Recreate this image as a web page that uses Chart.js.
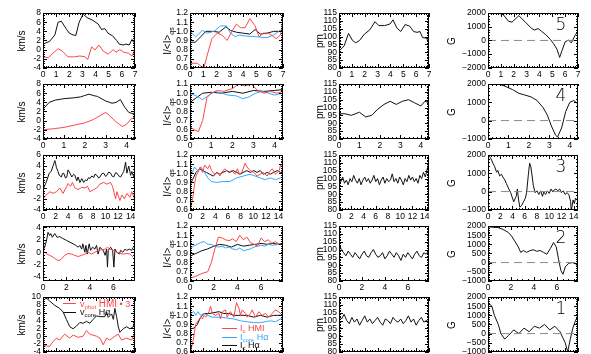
<!DOCTYPE html>
<html><head><meta charset="utf-8">
<script src="https://cdn.jsdelivr.net/npm/chart.js@4/dist/chart.umd.min.js"></script>
<style>
body{margin:0;width:591px;height:354px;overflow:hidden;background:#fff;position:relative;font-family:"Liberation Sans",Arial,sans-serif;color:#000}
canvas{position:absolute}
.yt{position:absolute;transform:translate(-50%,-50%) rotate(-90deg);font-size:10px;white-space:nowrap;line-height:1}
.num{position:absolute;transform:translate(-50%,-50%);font-family:"DejaVu Sans",sans-serif;font-weight:200;font-size:17px;line-height:1}
.lg{position:absolute;font-size:9px;white-space:nowrap;line-height:1}
.lg sub{font-size:6px;vertical-align:-2px}
.ln{position:absolute;height:0;border-top:1px solid}
</style></head><body>
<script>
// ---------------- DATA ----------------
// Row 1 (panel 5)
const r1VcoreX=[0,0.5,0.9,1.15,1.4,1.8,2.0,2.3,2.5,2.75,3.05,3.36,3.8,4.2,4.45,4.7,4.95,5.3,5.6,5.8,6.1,6.3,6.56,6.77,6.9,7.0];
const r1VcoreY=[1.2,1.8,3.2,6.0,6.2,4.4,3.6,3.2,3.1,6.0,7.8,7.0,6.4,5.6,4.4,4.6,3.6,3.0,2.0,1.2,1.0,1.2,1.0,2.2,1.6,2.0];
const r1VphotX=[0,0.4,0.76,1.15,1.5,1.9,2.4,2.8,3.2,3.4,3.7,3.95,4.25,4.6,4.96,5.35,5.55,5.85,6.16,6.5,6.77,7.0];
const r1VphotY=[-1.6,-1.8,-0.8,0.2,-0.4,-1.6,-1.6,-1.4,-1.6,-2.2,0.6,-0.1,1.0,-0.4,-1.0,0.0,-0.6,0.0,-0.6,-0.8,-1.4,0.0];
const r1IcoreX=[0,0.43,0.93,1.3,1.8,2.3,2.75,3.05,3.4,3.7,4.05,5.05,5.8,6.3,6.8,7.0];
const r1IcoreY=[1.0,0.94,1.01,0.98,1.0,1.06,1.06,0.98,0.94,0.96,0.95,0.94,0.93,0.96,1.01,1.03];
const r1IcHaX=[0,0.4,0.8,1.2,1.7,2.2,2.7,3.05,3.5,4.0,4.5,4.9,5.3,5.8,6.3,7.0];
const r1IcHaY=[0.88,0.88,0.94,1.0,1.0,0.99,1.05,1.01,0.99,0.98,0.97,1.02,0.97,0.98,1.0,1.0];
const r1IcHmiX=[0,0.55,0.8,1.05,1.3,1.65,2.05,2.4,2.8,3.15,3.5,3.8,4.15,4.5,4.9,5.2,5.5,5.9,6.3,6.5,6.8,7.0];
const r1IcHmiY=[0.65,0.65,0.62,0.6,0.74,0.92,0.98,0.96,0.9,1.0,1.08,1.04,1.04,1.14,1.06,0.94,0.98,0.98,0.94,0.92,0.96,1.08];
const r1PmX=[0,0.4,0.74,1.05,1.3,1.6,1.98,2.4,2.8,3.1,3.56,3.96,4.2,4.5,4.8,5.15,5.5,5.8,6.07,6.3,6.5,6.8,7.0];
const r1PmY=[90.7,94,102,97.5,96,97.5,101.6,104.3,109.5,107,107,108,110.7,105.5,103.2,107.7,106.6,103.2,102.7,103.2,99.3,99,96];
const r1GX=[0,0.83,1.2,1.6,1.87,2.4,2.9,3.4,3.6,3.9,4.15,4.5,4.85,5.1,5.36,5.5,5.57,5.75,6.0,6.27,6.48,6.8,6.9,7.0];
const r1GY=[2000,2000,1870,1400,1340,1815,1340,870,760,870,680,420,80,-240,-630,-1030,-1240,-760,-100,30,-180,420,550,420];
// Row 2 (panel 4)
const r2VcoreX=[0,0.3,0.6,1.0,1.5,1.8,2.0,2.2,2.4,2.6,3.0,3.3,3.5,3.7,3.9,4.1,4.3,4.4];
const r2VcoreY=[2.5,4.0,4.5,4.8,5.0,5.2,5.5,5.8,5.5,5.3,4.3,3.8,4.0,4.6,3.0,1.8,1.5,1.8];
const r2VphotX=[0,0.5,1.0,1.5,2.0,2.4,2.7,3.0,3.2,3.5,3.8,4.0,4.2,4.4];
const r2VphotY=[-2,-1.8,-1.5,-1,-0.5,0.2,1,1.8,1,-0.3,-1.3,-0.8,0.3,0.8];
const r2IcHmiX=[0,0.2,0.4,0.6,0.8,1.0,1.3,1.6,2.0,2.3,2.6,2.9,3.2,3.5,3.8,4.1,4.4];
const r2IcHmiY=[0.63,0.6,0.58,0.7,0.95,1.0,1.03,1.02,1.05,1.1,1.08,1.1,1.03,1.0,1.02,1.0,1.02];
const r2IcoreX=[0,0.3,0.6,0.9,1.2,1.5,1.8,2.2,2.5,2.8,3.1,3.4,3.7,4.0,4.4];
const r2IcoreY=[1.0,0.97,0.93,0.98,1.02,1.0,0.98,0.97,0.94,0.96,1.0,1.02,1.0,0.98,1.0];
const r2IcHaX=[0,0.3,0.6,1.0,1.5,2.0,2.5,3.0,3.5,4.0,4.4];
const r2IcHaY=[0.9,0.95,1.0,1.01,1.0,1.02,1.0,1.03,1.02,1.03,1.04];
const r2PmX=[0,0.3,0.6,1.0,1.3,1.6,1.9,2.2,2.5,2.8,3.1,3.4,3.7,4.0,4.2,4.4];
const r2PmY=[96,96,95,97,94,95,99,102,104,102,104,105,103,101,104,103];
const r2GX=[0,0.5,0.8,1.2,1.5,1.8,2.1,2.4,2.7,2.9,3.1,3.3,3.4,3.6,3.8,4.0,4.2,4.4];
const r2GY=[2000,2000,1900,1700,1500,1400,1300,1100,700,300,-300,-800,-900,-400,500,1000,1100,900];
// Row 3 (panel 3)
const r3VcoreX=[0,0.3,0.5,0.8,1,1.3,1.6,1.9,2.0,2.15,2.4,2.6,2.95,3.1,3.3,3.6,3.8,4.0,4.3,4.6,4.9,5.1,5.4,5.6,5.9,6.2,6.5,6.8,7,7.3,7.5,7.8,8.1,8.3,8.6,8.9,9.1,9.4,9.7,10,10.2,10.5,10.8,11,11.3,11.6,11.8,12.1,12.4,12.7,12.9,13.2,13.4,13.7,14,14.2,14.5,14.7];
const r3VcoreY=[-0.3,0.5,1,2,2.7,3,4,5,4.5,3.7,3,2.3,2,2.6,2.7,1.8,2,3.3,2.7,2,2.5,2.3,1.3,2,1,1.7,1,1.5,1.3,1.9,1.7,2.2,1.9,2.5,2.3,1.8,2,2.6,2.7,2.1,2.3,2.9,2.7,2.2,2,2.8,2.7,2.2,2,2.6,3,4.7,2.7,4,2.3,3,2,2.7];
const r3VphotX=[0,0.5,1.1,1.6,2.15,2.7,3.2,3.8,4.0,4.4,4.7,5.1,5.6,6.2,6.7,7.1,7.5,8.1,8.6,9.1,9.7,10.2,10.8,11.1,11.6,11.8,12.3,12.6,13,13.4,13.9,14.2,14.7];
const r3VphotY=[-2,-1.3,-0.7,-1,-0.7,0,-1,0.3,0.8,0.3,1,0,-0.3,0.1,0,0.3,-0.7,-0.3,0,0.7,1,0.7,1,0.3,-2,-0.7,-2.3,-1.3,-2,-1,-1.7,-0.7,-2.3];
const r3IcHmiX=[0,0.4,0.7,0.95,1.4,1.6,2.0,2.3,2.8,3.1,3.4,3.9,4.4,4.7,5.0,5.5,6.1,6.6,7.1,7.5,7.8,8.2,8.7,9.0,9.5,10.1,10.6,11.1,11.6,12.2,12.5,13,13.5,14.1,14.3,14.7];
const r3IcHmiY=[0.6,0.71,0.87,0.97,1.03,1.07,1.01,1.09,1.05,1.09,1.03,0.99,1.01,0.97,1.01,1.05,1.01,1.03,0.99,1.05,0.99,1.01,1.11,1.07,1.03,1.01,0.97,0.99,1.01,0.97,1.01,1.05,0.99,1.03,1.09,1.07];
const r3IcoreX=[0,0.4,0.7,1.2,1.7,2.3,2.8,3.4,4.2,5.2,6.3,7.4,8.4,9.5,10.3,11.1,11.9,12.7,13.5,14.3,14.7];
const r3IcoreY=[1.05,1.01,1.07,1.03,1.07,1.01,0.95,0.91,0.9,0.91,0.91,0.95,0.97,0.99,0.97,0.95,0.93,0.95,0.93,0.95,0.96];
const r3IcHaX=[0,0.4,0.95,1.5,2.0,2.6,3.1,3.7,4.2,4.7,5.2,5.8,6.3,6.8,7.4,7.9,8.4,9.0,9.5,10.1,10.6,11.1,11.6,12.2,12.7,13.2,13.8,14.3,14.7];
const r3IcHaY=[0.87,0.93,1.01,1.05,1.03,1.01,0.99,0.97,1.01,0.99,1.01,1.03,1.01,1.03,1.01,0.99,1.01,1.03,1.01,1.03,1.01,1.03,0.99,1.01,0.99,1.01,1.03,1.01,1.02];
const r3PmX=[0,0.3,0.6,0.9,1.2,1.5,1.8,2.1,2.4,2.7,3.0,3.3,3.6,3.9,4.2,4.5,4.8,5.1,5.4,5.7,6.0,6.3,6.6,6.9,7.2,7.5,7.8,8.1,8.4,8.7,9.0,9.3,9.6,9.9,10.2,10.5,10.8,11.1,11.4,11.7,12.0,12.3,12.6,12.9,13.2,13.5,13.8,14.1,14.4,14.7];
const r3PmY=[100,98,101,97,99,96,100,98,102,99,97,100,96,99,101,98,100,97,99,102,98,100,96,99,101,97,100,98,99,103,98,100,97,101,99,96,100,98,102,99,101,98,100,97,102,100,104,101,106,110];
const r3GX=[0,0.4,0.8,1.1,1.4,1.6,1.9,2.2,2.5,2.75,3.0,3.4,3.7,4.0,4.2,4.6,4.8,5.0,5.2,5.5,5.8,6.1,6.3,6.6,6.8,7.0,7.2,7.4,7.7,8.0,8.3,8.6,8.9,9.1,9.4,9.7,10,10.3,10.6,10.8,11.1,11.4,11.7,12,12.3,12.6,12.9,13.2,13.5,13.6,13.9,14.1,14.3,14.5,14.7];
const r3GY=[2000,1860,1560,1360,1060,1160,860,950,750,640,440,140,-60,-360,-560,-260,140,-460,-860,-760,-560,-360,-60,950,1560,1360,860,340,-60,40,-160,40,-260,-20,-160,40,-100,140,-20,80,140,40,140,-60,40,-160,-60,-160,-560,-1060,-460,-660,-360,-460,-360];
// Row 4 (panel 2)
const r4VcoreX=[0,0.14,0.3,0.43,0.57,0.66,0.8,1.0,1.2,1.43,1.7,2.0,2.3,2.57,2.8,3.0,3.14,3.3,3.4,3.57,3.66,3.77,3.94,4.06,4.23,4.43,4.57,4.7,4.86,5.0,5.14,5.3,5.43,5.5,5.57,5.77,5.94,6.05,6.14,6.3,6.5,6.63,6.8,7.0,7.14,7.37,7.57,7.7];
const r4VcoreY=[0.3,0.8,1.9,3.2,2.7,3.0,2.4,3.0,2.4,2.5,2.2,1.9,1.6,1.35,1.1,0.8,1.1,0.5,1.35,0,1.1,-0.3,1.35,0.3,0.8,0.5,1.1,-0.3,0.8,0.5,0.3,-0.5,0.5,-2.4,0.3,0.8,0.3,-2.4,0.5,0,-0.3,0.3,0,0.5,0.3,0.5,0.3,0.8];
const r4VphotX=[0,0.3,0.57,0.86,1.14,1.37,1.57,1.86,2.14,2.43,2.7,3.0,3.3,3.57,3.86,4.14,4.43,4.7,5.0,5.3,5.5,5.7,6.0,6.3,6.57,6.86,7.14,7.43,7.7];
const r4VphotY=[0.3,-0.3,-0.5,-0.8,-1.2,-1.35,-1.1,-0.5,-0.2,-0.3,-0.5,-0.7,-0.5,-0.3,0,-0.3,0,0.3,0.4,0.5,0.8,0.5,0.3,0,-0.2,-0.3,-0.2,-0.3,-0.8];
const r4IcHmiX=[0,0.5,1.0,1.5,1.8,2.1,2.4,2.7,3.0,3.3,3.6,3.9,4.2,4.5,4.8,5.1,5.4,5.7,6.0,6.3,6.6,6.9,7.2,7.5,7.8];
const r4IcHmiY=[0.63,0.65,0.68,0.7,0.8,0.95,1.08,1.07,1.05,1.04,1.06,1.03,1.1,1.05,1.08,1.02,1.0,0.98,1.07,1.03,1.05,1.01,1.03,1.0,1.01];
const r4IcoreX=[0,0.3,0.6,0.9,1.2,1.5,1.8,2.1,2.4,2.7,3.0,3.3,3.6,3.9,4.2,4.5,4.8,5.1,5.4,5.7,6.0,6.3,6.6,7.0,7.5,7.8];
const r4IcoreY=[0.95,0.98,1.0,1.02,1.03,1.0,1.0,0.98,0.97,0.98,0.96,0.97,0.95,0.94,0.96,0.93,0.94,0.95,0.97,0.98,0.99,0.98,1.0,0.99,1.0,1.0];
const r4IcHaX=[0,0.5,1.0,1.5,2.0,2.5,3.0,3.5,4.0,4.5,5.0,5.5,6.0,6.5,7.0,7.5,7.8];
const r4IcHaY=[0.87,0.9,0.93,0.95,0.98,1.0,0.99,0.97,1.0,0.98,0.99,1.0,1.01,1.0,1.01,1.0,1.01];
const r4PmX=[0,0.2,0.4,0.6,0.8,1.0,1.2,1.4,1.6,1.8,2.0,2.2,2.4,2.6,2.8,3.0,3.2,3.4,3.6,3.8,4.0,4.2,4.4,4.6,4.8,5.0,5.2,5.4,5.6,5.8,6.0,6.2,6.4,6.6,6.8,7.0,7.2,7.4,7.6,7.8];
const r4PmY=[104,100,98,96,99,97,95,98,96,94,97,99,96,95,98,100,97,95,96,98,94,96,99,97,95,98,96,93,97,95,98,96,94,97,99,96,95,98,97,99];
const r4GX=[0,0.88,1.3,1.76,2.05,2.35,2.64,2.85,3.08,3.37,3.67,3.96,4.25,4.55,4.84,5.13,5.43,5.72,5.95,6.16,6.36,6.54,6.74,7.04,7.33,7.62,7.85];
const r4GY=[1960,1920,1820,1660,1460,1160,860,560,660,560,660,700,620,660,560,460,760,1100,860,160,-440,-640,-240,-40,0,-40,-240];
// Row 5 (panel 1)
const r5VcoreX=[0,0.25,0.5,0.89,1.27,1.53,1.78,2.04,2.29,2.55,2.8,3.05,3.31,3.56,3.82,4.07,4.33,4.71,4.84,4.96,5.22,5.35,5.47,5.6,5.73,5.85,6.11,6.36,6.62,6.87,7.0];
const r5VcoreY=[9.0,9.8,9.0,7.9,7.1,6.2,4.3,2.4,1.9,2.6,3.5,3.3,3.8,3.3,4.3,5.2,5.0,5.0,6.2,4.8,5.7,4.3,7.1,5.0,2.4,1.0,1.9,2.4,1.9,2.4,4.3];
const r5VphotX=[0,0.51,0.76,1.02,1.27,1.65,2.04,2.29,2.67,3.05,3.31,3.56,4.07,4.33,4.58,4.84,5.09,5.47,5.73,5.98,6.36,6.75,7.0];
const r5VphotY=[-2.4,-2.6,-1.4,-0.5,-1.0,0.5,-0.5,0.3,-0.3,0,1.4,0.5,0,-0.5,-2.2,-0.5,-1.0,0,0.5,-1.0,-0.5,-1.0,1.0];
const r5IcHmiX=[0,0.05,0.25,0.42,0.8,0.93,1.05,1.18,1.43,1.55,1.68,1.93,2.18,2.3,2.43,2.68,2.8,2.93,3.05,3.3,3.5,3.68,3.8,3.93,4.18,4.3,4.55,4.68,4.93,5.18,5.43,5.68,5.93,6.18,6.43,6.68,6.93];
const r5IcHmiY=[0.6,0.61,0.73,0.9,0.98,0.96,1.0,0.98,1.04,1.1,1.02,1.0,1.02,0.96,1.04,1.06,0.98,1.02,1.04,0.98,1.14,1.08,1.0,1.06,1.02,0.98,1.02,1.06,0.98,1.04,1.0,1.02,0.98,1.02,1.06,1.04,1.0];
const r5IcoreX=[0,0.3,0.43,0.6,0.8,1.05,1.3,1.68,2.3,2.8,3.3,3.8,4.3,4.8,5.3,5.68,6.05,6.43,6.8,7.0];
const r5IcoreY=[1.02,1.04,1.0,1.04,1.0,1.02,1.0,0.98,0.98,0.97,0.96,0.94,0.93,0.92,0.92,0.93,0.94,0.93,0.96,0.98];
const r5IcHaX=[0,0.3,0.55,0.8,1.05,1.43,1.8,2.18,2.55,2.93,3.3,3.8,4.3,4.8,5.3,5.8,6.3,7.0];
const r5IcHaY=[0.85,0.86,0.9,0.98,1.02,1.02,1.03,1.04,1.02,1.02,1.0,1.0,1.0,0.98,1.0,0.98,1.0,1.0];
const r5PmX=[0,0.2,0.4,0.6,0.8,1.0,1.2,1.4,1.6,1.8,2.0,2.2,2.4,2.6,2.8,3.0,3.2,3.4,3.6,3.8,4.0,4.2,4.4,4.6,4.8,5.0,5.2,5.4,5.6,5.8,6.0,6.2,6.4,6.6,6.8,7.0];
const r5PmY=[103,101,104,100,98,102,99,101,97,100,103,99,101,98,100,102,99,97,101,100,98,102,100,99,101,98,100,103,99,101,97,100,102,99,100,101];
const r5GX=[0,0.3,0.5,0.8,1.0,1.3,1.6,2.0,2.4,2.8,3.2,3.6,4.0,4.4,4.8,5.2,5.6,6.0,6.2,6.4,6.6,6.8,7.0];
const r5GY=[1700,1500,1000,500,0,-300,-100,200,0,300,100,400,300,500,200,400,100,-500,-1000,-300,300,700,1000];
// Axis ranges / ticks
const xRanges=[[0,7,1],[0,4.4,1],[0,14.7,2],[0,7.85,2],[0,7,1]];
const yKms=[[-4,8,2],[-4,8,2],[-4,6,2],[-4.6,4.2,2],[-4,10,2]];
const yInt=[[0.6,1.2,0.1],[0.5,1.1,0.1],[0.6,1.2,0.1],[0.6,1.2,0.1],[0.6,1.2,0.1]];
const yPm=[80,115,5];
const yG=[[-2000,2000,1000],[-1000,2000,1000],[-1000,2000,1000],[-1000,2000,500],[-1000,2000,500]];
const panelNumbers=['5','4','3','2','1'];

// ---------------- DRAWING ----------------
const RED='#ff4646', BLUE='#36a8ff', BLACK='#111', DASH='#8a8a8a';
const COL_L=[43,190,339,488], COL_W=[92,93,90,90];
const ROW_T=[13,84,155,226,297], ROW_H=55;
const PADL=44,PADT=7,PADR=9;
const FONT={family:'"Liberation Sans",Arial,sans-serif',size:8.5};

const frame={id:'frame',afterDatasetsDraw(chart,args,o){
  const {ctx,chartArea:a,scales:{x,y}}=chart;
  ctx.save();ctx.strokeStyle='#000';ctx.lineWidth=1;
  const L=Math.round(a.left),T=Math.round(a.top),R=Math.round(a.right),B=Math.round(a.bottom);
  ctx.strokeRect(L+0.5,T+0.5,R-L-1,B-T-1);
  ctx.beginPath();
  const tx=(v,n)=>{const p=Math.round(x.getPixelForValue(v))+0.5;ctx.moveTo(p,B);ctx.lineTo(p,B-n);ctx.moveTo(p,T);ctx.lineTo(p,T+n);};
  const ty=(v,n)=>{const p=Math.round(y.getPixelForValue(v))+0.5;ctx.moveTo(L,p);ctx.lineTo(L+n,p);ctx.moveTo(R,p);ctx.lineTo(R-n,p);};
  x.ticks.forEach(t=>tx(t.value,4));y.ticks.forEach(t=>ty(t.value,4));
  for(let v=Math.ceil(x.min/o.xm-1e-9)*o.xm;v<=x.max+1e-9;v+=o.xm)tx(v,2);
  for(let v=Math.ceil(y.min/o.ym-1e-9)*o.ym;v<=y.max+1e-9;v+=o.ym)ty(v,2);
  ctx.stroke();ctx.restore();
}};

function ds(xs,ys,color,dash){return{data:xs.map((v,i)=>({x:v,y:ys[i]})),borderColor:color,borderWidth:1,pointRadius:0,tension:0,fill:false,borderDash:dash||[]};}

function panel(col,row,datasets,yr,yfmt,ym){
  const c=document.createElement('canvas');
  const W=COL_W[col]+PADL+PADR,H=ROW_H+PADT+20;
  c.width=W;c.height=H;c.style.width=W+'px';c.style.height=H+'px';
  document.body.appendChild(c);
  const xr=xRanges[row];
  const ch=new Chart(c,{type:'line',data:{datasets},plugins:[frame],options:{
    responsive:false,maintainAspectRatio:false,animation:false,devicePixelRatio:1,
    layout:{padding:{top:PADT,right:PADR,left:0,bottom:2}},
    plugins:{legend:{display:false},tooltip:{enabled:false},frame:{xm:xr[2]/(xr[2]===2?4:5),ym:ym}},
    scales:{
      x:{type:'linear',min:xr[0],max:xr[1],grid:{display:false,drawTicks:false},border:{display:false},
         ticks:{stepSize:xr[2],includeBounds:false,autoSkip:false,maxRotation:0,padding:2,font:FONT,color:'#000',callback:v=>String(v)}},
      y:{type:'linear',min:yr[0],max:yr[1],afterFit:s=>{s.width=PADL;},grid:{display:false,drawTicks:false},border:{display:false},
         ticks:{stepSize:yr[2],includeBounds:false,autoSkip:false,padding:2,font:FONT,color:'#000',callback:yfmt}}
    }}});
  let a=ch.chartArea;
  const dW=Math.round(COL_W[col]-(a.right-a.left)),dH=Math.round(ROW_H-(a.bottom-a.top));
  if(dW||dH){ch.resize(W+dW,H+dH);a=ch.chartArea;}
  c.style.left=(COL_L[col]-Math.round(a.left))+'px';c.style.top=(ROW_T[row]-Math.round(a.top))+'px';
}

const kms=v=>String(v), fint=v=>v.toFixed(1), fpm=v=>String(v), fg=v=>String(v).replace('-','\u2212');
const series=[
 {vc:[r1VcoreX,r1VcoreY],vp:[r1VphotX,r1VphotY],ih:[r1IcHmiX,r1IcHmiY],ic:[r1IcoreX,r1IcoreY],ia:[r1IcHaX,r1IcHaY],pm:[r1PmX,r1PmY],g:[r1GX,r1GY]},
 {vc:[r2VcoreX,r2VcoreY],vp:[r2VphotX,r2VphotY],ih:[r2IcHmiX,r2IcHmiY],ic:[r2IcoreX,r2IcoreY],ia:[r2IcHaX,r2IcHaY],pm:[r2PmX,r2PmY],g:[r2GX,r2GY]},
 {vc:[r3VcoreX,r3VcoreY],vp:[r3VphotX,r3VphotY],ih:[r3IcHmiX,r3IcHmiY],ic:[r3IcoreX,r3IcoreY],ia:[r3IcHaX,r3IcHaY],pm:[r3PmX,r3PmY],g:[r3GX,r3GY]},
 {vc:[r4VcoreX,r4VcoreY],vp:[r4VphotX,r4VphotY],ih:[r4IcHmiX,r4IcHmiY],ic:[r4IcoreX,r4IcoreY],ia:[r4IcHaX,r4IcHaY],pm:[r4PmX,r4PmY],g:[r4GX,r4GY]},
 {vc:[r5VcoreX,r5VcoreY],vp:[r5VphotX,r5VphotY],ih:[r5IcHmiX,r5IcHmiY],ic:[r5IcoreX,r5IcoreY],ia:[r5IcHaX,r5IcHaY],pm:[r5PmX,r5PmY],g:[r5GX,r5GY]}
];

function html(tag,cls,style,inner){const e=document.createElement(tag);e.className=cls;e.style.cssText=style;e.innerHTML=inner;document.body.appendChild(e);return e;}

series.forEach((s,r)=>{
  const xr=xRanges[r];
  panel(0,r,[ds(s.vp[0],s.vp[1],RED),ds(s.vc[0],s.vc[1],BLACK)],yKms[r],kms,0.5);
  panel(1,r,[ds(s.ih[0],s.ih[1],RED),ds(s.ic[0],s.ic[1],BLUE),ds(s.ia[0],s.ia[1],BLACK)],yInt[r],fint,0.02);
  panel(2,r,[ds(s.pm[0],s.pm[1],BLACK)],yPm,fpm,1);
  panel(3,r,[ds([xr[0],xr[1]],[0,0],DASH,[8,5]),ds(s.g[0],s.g[1],BLACK)],yG[r],fg,yG[r][2]/5);
  const cy=ROW_T[r]+ROW_H/2;
  html('div','yt',`left:22px;top:${cy}px`,'km/s');
  html('div','yt',`left:169px;top:${cy}px`,'I/&lt;I&gt;<sub style="font-size:7px">qs</sub>');
  html('div','yt',`left:320px;top:${cy}px`,'pm');
  html('div','yt',`left:452px;top:${cy}px`,'G');
  html('div','num',`left:561px;top:${ROW_T[r]+11}px`,panelNumbers[r]);
});

// Legends (panel 1)
html('div','ln',`left:63px;top:303px;width:13px;border-color:${RED}`,'');
html('div','lg',`left:80px;top:299px;color:${RED}`,'v<sub>phot</sub> <span style="font-size:10px">HMI</span> &#8226; 3');
html('div','ln',`left:63px;top:312px;width:13px;border-color:${BLACK}`,'');
html('div','lg',`left:80px;top:308px;color:${BLACK}`,'v<sub>core</sub> H&alpha;');
html('div','ln',`left:222px;top:328px;width:15px;border-color:${RED}`,'');
html('div','lg',`left:240px;top:324px;color:${RED}`,'I<sub>c</sub> HMI');
html('div','ln',`left:222px;top:337px;width:15px;border-color:${BLUE}`,'');
html('div','lg',`left:240px;top:333px;color:${BLUE}`,'I<sub>core</sub> H&alpha;');
html('div','ln',`left:222px;top:345px;width:15px;border-color:${BLACK}`,'');
html('div','lg',`left:240px;top:341px;color:${BLACK}`,'I<sub>c</sub> H&alpha;');
</script>
</body></html>
